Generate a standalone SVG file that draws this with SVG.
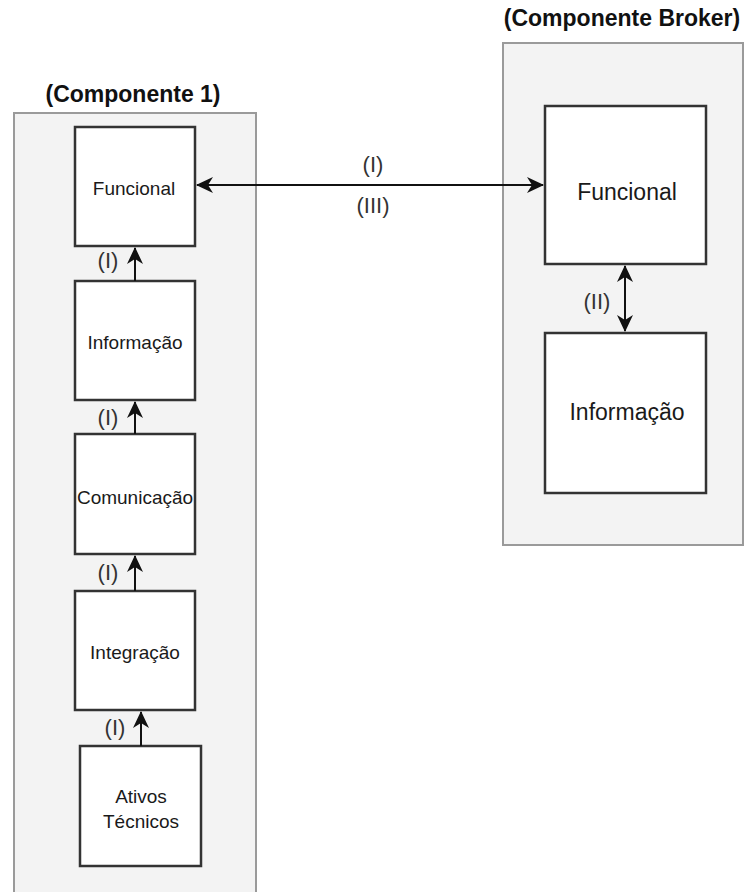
<svg xmlns="http://www.w3.org/2000/svg" width="747" height="892" viewBox="0 0 747 892">
  <style>
    .container { fill: #f3f3f3; stroke: #9a9a9a; stroke-width: 2; }
    .box { fill: #ffffff; stroke: #333333; stroke-width: 2.5; }
    .title { font-family: "Liberation Sans", Arial, sans-serif; font-weight: bold; font-size: 23px; fill: #111111; text-anchor: middle; }
    .lbl { font-family: "Liberation Sans", Arial, sans-serif; font-size: 19px; fill: #1a1a1a; text-anchor: middle; }
    .lbl-lg { font-family: "Liberation Sans", Arial, sans-serif; font-size: 23px; fill: #1a1a1a; text-anchor: middle; }
    .edge-lbl { font-family: "Liberation Sans", Arial, sans-serif; font-size: 22px; fill: #333333; text-anchor: middle; }
    .edge { stroke: #111111; stroke-width: 2; fill: none; }
  </style>
  <defs>
    <marker id="arrow" viewBox="0 0 17 16" refX="16" refY="8" markerWidth="17" markerHeight="16" markerUnits="userSpaceOnUse" orient="auto-start-reverse">
      <path d="M0,0 L17,8 L0,16 L5,8 Z" fill="#111111"/>
    </marker>
  </defs>
  <rect width="747" height="892" fill="#ffffff"/>

  <!-- Component 1 container -->
  <g id="componente-1">
    <rect class="container" x="14" y="113" width="242" height="790"/>
    <text class="title" x="133" y="102">(Componente 1)</text>
  </g>

  <!-- Broker container -->
  <g id="componente-broker">
    <rect class="container" x="503" y="43" width="240" height="502"/>
    <text class="title" x="622" y="26">(Componente Broker)</text>
  </g>

  <!-- Component 1 layers -->
  <g id="c1-funcional">
    <rect class="box" x="75" y="127" width="120" height="119"/>
    <text class="lbl" x="134" y="195">Funcional</text>
  </g>
  <g id="c1-informacao">
    <rect class="box" x="75" y="281" width="120" height="119"/>
    <text class="lbl" x="135" y="349">Informação</text>
  </g>
  <g id="c1-comunicacao">
    <rect class="box" x="75" y="434" width="120" height="120"/>
    <text class="lbl" x="135" y="504">Comunicação</text>
  </g>
  <g id="c1-integracao">
    <rect class="box" x="75" y="591" width="120" height="119"/>
    <text class="lbl" x="135" y="659">Integração</text>
  </g>
  <g id="c1-ativos">
    <rect class="box" x="80" y="746" width="121" height="120"/>
    <text class="lbl" x="141" y="803">Ativos</text>
    <text class="lbl" x="141" y="828">Técnicos</text>
  </g>

  <!-- Broker layers -->
  <g id="broker-funcional">
    <rect class="box" x="545" y="106" width="161" height="158"/>
    <text class="lbl-lg" x="627" y="200">Funcional</text>
  </g>
  <g id="broker-informacao">
    <rect class="box" x="545" y="333" width="161" height="160"/>
    <text class="lbl-lg" x="627" y="420">Informação</text>
  </g>

  <!-- Connectors -->
  <g id="connectors">
    <line class="edge" x1="135" y1="281" x2="135" y2="248" marker-end="url(#arrow)"/>
    <text class="edge-lbl" x="108" y="268">(I)</text>

    <line class="edge" x1="135" y1="434" x2="135" y2="402" marker-end="url(#arrow)"/>
    <text class="edge-lbl" x="108" y="425">(I)</text>

    <line class="edge" x1="135" y1="591" x2="135" y2="556" marker-end="url(#arrow)"/>
    <text class="edge-lbl" x="108" y="580">(I)</text>

    <line class="edge" x1="141" y1="746" x2="141" y2="712" marker-end="url(#arrow)"/>
    <text class="edge-lbl" x="115" y="735">(I)</text>

    <line class="edge" x1="197" y1="185" x2="543" y2="185" marker-start="url(#arrow)" marker-end="url(#arrow)"/>
    <text class="edge-lbl" x="373" y="172">(I)</text>
    <text class="edge-lbl" x="373" y="213">(III)</text>

    <line class="edge" x1="625" y1="266" x2="625" y2="331" marker-start="url(#arrow)" marker-end="url(#arrow)"/>
    <text class="edge-lbl" x="597" y="309">(II)</text>
  </g>
</svg>
